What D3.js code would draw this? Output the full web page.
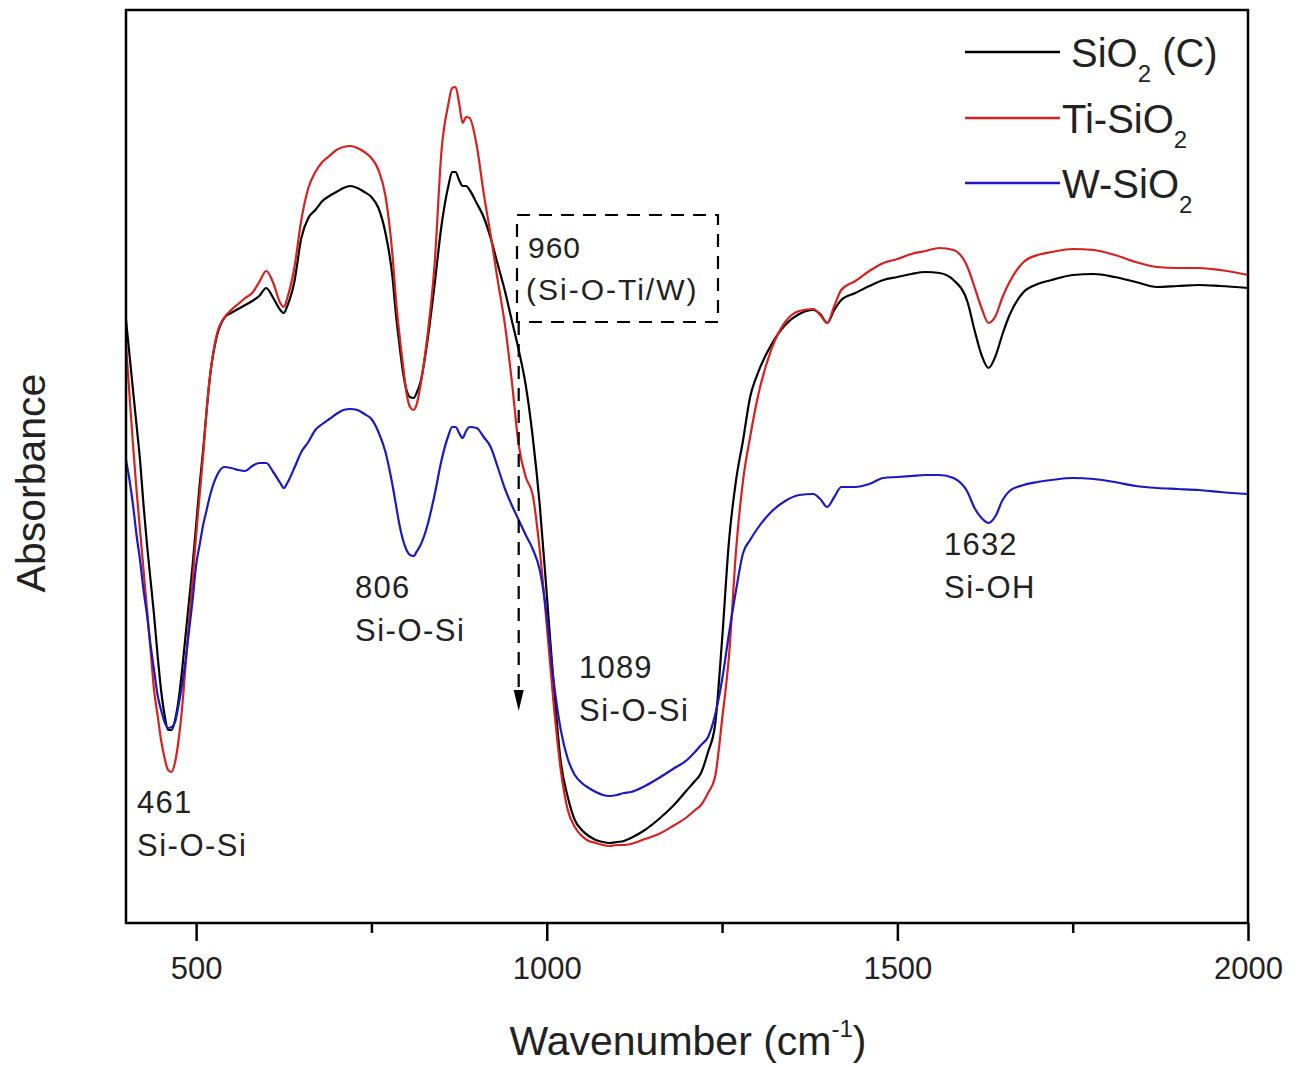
<!DOCTYPE html>
<html>
<head>
<meta charset="utf-8">
<script src="https://cdn.jsdelivr.net/npm/d3@7"></script>
<style>
  html, body { margin: 0; padding: 0; background: #fff; }
  svg text { font-family: "Liberation Sans", Arial, sans-serif; fill: #222; }
</style>
</head>
<body>
<svg id="chart" width="1300" height="1067"></svg>
<script>
// FTIR spectra: wavenumber grid (cm-1) and absorbance (a.u.) of each sample
const wavenumbers = [400,405,410,415,420,425,430,435,440,445,450,455,460,465,470,475,480,485,490,495,
  500,505,510,515,520,530,540,550,560,570,580,590,600,610,620,625,630,640,650,660,670,680,690,700,
  710,720,730,740,750,760,770,780,785,790,795,800,805,810,815,820,830,840,850,860,865,870,875,880,
  885,890,900,910,920,930,940,950,960,970,980,990,1000,1010,1020,1030,1040,1050,1060,1070,1080,1090,
  1100,1110,1120,1140,1160,1180,1200,1210,1220,1230,1240,1250,1260,1270,1280,1290,1300,1320,1340,1360,
  1380,1390,1400,1410,1420,1440,1460,1480,1500,1520,1540,1560,1580,1600,1610,1620,1630,1640,1650,1660,
  1680,1700,1720,1750,1780,1810,1840,1870,1900,1930,1960,2000];

const sio2C = [6.03,5.68,5.33,4.98,4.63,4.18,3.78,3.43,3.08,2.68,2.33,2.08,1.93,1.93,2.03,2.23,2.53,2.88,3.23,3.58,
  3.98,4.38,4.73,5.13,5.48,5.88,6.05,6.10,6.14,6.18,6.22,6.27,6.35,6.25,6.13,6.10,6.17,6.41,6.85,7.05,7.13,7.22,7.27,7.31,
  7.35,7.37,7.35,7.31,7.26,7.15,6.90,6.46,6.08,5.78,5.51,5.33,5.26,5.25,5.31,5.41,5.83,6.38,6.98,7.38,7.51,7.51,7.43,7.37,
  7.37,7.33,7.20,7.06,6.85,6.59,6.33,6.03,5.73,5.38,4.86,4.18,3.29,2.37,1.61,1.26,1.03,0.93,0.87,0.83,0.81,0.80,
  0.81,0.82,0.85,0.93,1.04,1.17,1.33,1.41,1.50,1.71,1.98,2.83,3.83,4.43,4.83,5.26,5.48,5.78,5.98,6.09,
  6.13,6.09,6.00,6.13,6.23,6.30,6.37,6.43,6.46,6.49,6.51,6.50,6.43,6.21,5.93,5.68,5.55,5.67,5.89,6.08,
  6.31,6.39,6.43,6.48,6.49,6.46,6.41,6.36,6.37,6.38,6.37,6.35];

const tiSiO2 = [5.78,5.28,4.78,4.33,3.93,3.53,3.13,2.73,2.33,2.08,1.83,1.65,1.53,1.51,1.61,1.83,2.15,2.58,3.03,3.43,
  3.88,4.28,4.68,5.13,5.48,5.90,6.05,6.13,6.19,6.25,6.30,6.41,6.52,6.40,6.20,6.16,6.25,6.55,7.03,7.35,7.51,7.61,7.67,7.73,
  7.76,7.77,7.75,7.71,7.65,7.53,7.27,6.68,6.23,5.88,5.58,5.30,5.16,5.13,5.20,5.38,5.88,6.58,7.73,8.20,8.35,8.36,8.20,8.00,
  8.06,8.05,7.78,7.30,6.88,6.43,6.00,5.43,4.78,4.46,4.28,3.73,2.98,2.18,1.53,1.13,0.96,0.87,0.82,0.80,0.78,0.77,
  0.78,0.78,0.79,0.84,0.89,0.97,1.06,1.12,1.18,1.30,1.46,2.03,2.68,3.73,4.43,4.86,5.23,5.73,6.01,6.12,
  6.14,6.08,6.00,6.17,6.33,6.42,6.52,6.60,6.64,6.69,6.72,6.75,6.73,6.56,6.36,6.15,6.00,6.07,6.26,6.41,
  6.61,6.68,6.71,6.74,6.73,6.68,6.61,6.56,6.55,6.55,6.53,6.48];

const wSiO2 = [4.63,4.43,4.18,3.88,3.63,3.33,3.08,2.78,2.53,2.28,2.13,2.01,1.95,1.96,2.01,2.18,2.38,2.63,2.93,3.23,
  3.58,3.78,3.98,4.13,4.28,4.48,4.56,4.55,4.53,4.52,4.57,4.60,4.60,4.51,4.40,4.35,4.40,4.55,4.71,4.81,4.93,4.99,5.04,5.09,
  5.13,5.14,5.13,5.09,5.04,4.91,4.71,4.38,4.18,3.98,3.83,3.73,3.68,3.67,3.72,3.78,3.98,4.28,4.63,4.88,4.96,4.96,4.90,4.85,
  4.92,4.96,4.95,4.86,4.76,4.56,4.35,4.18,4.03,3.88,3.74,3.53,3.08,2.41,1.93,1.64,1.48,1.40,1.35,1.31,1.28,1.27,
  1.28,1.30,1.31,1.37,1.45,1.54,1.63,1.70,1.78,1.86,2.08,2.43,2.90,3.33,3.70,3.83,3.94,4.11,4.22,4.28,
  4.29,4.24,4.16,4.26,4.36,4.36,4.39,4.45,4.46,4.47,4.48,4.48,4.45,4.31,4.15,4.05,4.00,4.07,4.23,4.32,
  4.38,4.41,4.43,4.45,4.44,4.41,4.37,4.35,4.34,4.33,4.31,4.29];

const seriesColors = ["#000000", "#d8201e", "#1a1ac0"];
const majorTicks = [500, 1000, 1500, 2000];
const minorTicks = [750, 1250, 1750];

// band assignments written next to the peaks
const bandLabels = [
  ["461", "Si-O-Si"],
  ["806", "Si-O-Si"],
  ["1089", "Si-O-Si"],
  ["1632", "Si-OH"]
];

const svg = d3.select("#chart");
const plot = { left: 126, right: 1248, top: 10, bottom: 923 };

const x = d3.scaleLinear().domain([400, 2000]).range([plot.left, plot.right]);
const y = d3.scaleLinear().domain([0, 9.13]).range([plot.bottom, plot.top]);

const allSeries = [sio2C, tiSiO2, wSiO2];

const line = d3.line()
  .x(d => x(d[0]))
  .y(d => y(d[1]))
  .curve(d3.curveMonotoneX);

// spectra, drawn black, then red, then blue on top
allSeries.forEach((vals, i) => {
  svg.append("path")
    .datum(wavenumbers.map((w, k) => [w, vals[k]]))
    .attr("fill", "none")
    .attr("stroke", seriesColors[i])
    .attr("stroke-width", 2.2)
    .attr("stroke-linejoin", "round")
    .attr("d", line);
});

// frame
svg.append("rect")
  .attr("x", plot.left).attr("y", plot.top)
  .attr("width", plot.right - plot.left).attr("height", plot.bottom - plot.top)
  .attr("fill", "none").attr("stroke", "#000").attr("stroke-width", 2.5);

// bottom axis: major ticks with labels, minor ticks without
const axisMajor = d3.axisBottom(x).tickValues(majorTicks).tickSize(18).tickPadding(16)
  .tickFormat(d3.format("d"));
const gMajor = svg.append("g").attr("transform", `translate(0,${plot.bottom})`).call(axisMajor);
gMajor.select(".domain").remove();
gMajor.selectAll("line").attr("stroke", "#000").attr("stroke-width", 2.5);
gMajor.selectAll("text").style("font-size", "31px").attr("fill", "#222");

const axisMinor = d3.axisBottom(x).tickValues(minorTicks).tickSize(10).tickFormat("");
const gMinor = svg.append("g").attr("transform", `translate(0,${plot.bottom})`).call(axisMinor);
gMinor.select(".domain").remove();
gMinor.selectAll("line").attr("stroke", "#000").attr("stroke-width", 2.5);

// axis titles
const xTitle = svg.append("text")
  .attr("x", 688).attr("y", 1055)
  .attr("text-anchor", "middle")
  .style("font-size", "41px");
xTitle.append("tspan").text("Wavenumber (cm");
xTitle.append("tspan").attr("dy", -18).style("font-size", "24px").text("-1");
xTitle.append("tspan").attr("dy", 18).text(")");

svg.append("text")
  .attr("transform", "translate(45,483) rotate(-90)")
  .attr("text-anchor", "middle")
  .style("font-size", "41px")
  .text("Absorbance");

// legend
const legendRows = [
  { y: 52, x: 1071, parts: ["SiO", "2", " (C)"] },
  { y: 118, x: 1062, parts: ["Ti-SiO", "2", ""] },
  { y: 183, x: 1062, parts: ["W-SiO", "2", ""] }
];
legendRows.forEach((row, i) => {
  svg.append("line")
    .attr("x1", 965).attr("x2", 1060)
    .attr("y1", row.y).attr("y2", row.y)
    .attr("stroke", seriesColors[i]).attr("stroke-width", 2.5);
  const t = svg.append("text")
    .attr("x", row.x).attr("y", row.y + 15)
    .style("font-size", "40px");
  t.append("tspan").text(row.parts[0]);
  t.append("tspan").attr("dy", 15).style("font-size", "24px").text(row.parts[1]);
  if (row.parts[2]) t.append("tspan").attr("dy", -15).text(row.parts[2]);
});

// band annotations
const bandPos = [[137, 813], [355, 598], [579, 678], [944, 555]];
bandLabels.forEach((b, i) => {
  const [bx, by] = bandPos[i];
  svg.append("text").attr("x", bx).attr("y", by)
    .style("font-size", "31px").style("letter-spacing", "1.2px").text(b[0]);
  svg.append("text").attr("x", bx).attr("y", by + 43)
    .style("font-size", "31px").style("letter-spacing", "1.5px").text(b[1]);
});

// dashed box around the 960 cm-1 assignment, with a dashed arrow down to the band
svg.append("rect")
  .attr("x", 517).attr("y", 215).attr("width", 201).attr("height", 107)
  .attr("fill", "none").attr("stroke", "#000").attr("stroke-width", 2.2)
  .attr("stroke-dasharray", "13,9");
svg.append("text").attr("x", 528).attr("y", 258)
  .style("font-size", "30px").style("letter-spacing", "1px").text("960");
svg.append("text").attr("x", 526).attr("y", 300)
  .style("font-size", "30px").style("letter-spacing", "2px").text("(Si-O-Ti/W)");

const arrowX = x(960);
svg.append("line")
  .attr("x1", arrowX).attr("x2", arrowX)
  .attr("y1", 322).attr("y2", 692)
  .attr("stroke", "#000").attr("stroke-width", 2.2)
  .attr("stroke-dasharray", "13,9");
svg.append("path")
  .attr("d", `M${arrowX - 5},690 L${arrowX + 5},690 L${arrowX},711 Z`)
  .attr("fill", "#000");
</script>
</body>
</html>
